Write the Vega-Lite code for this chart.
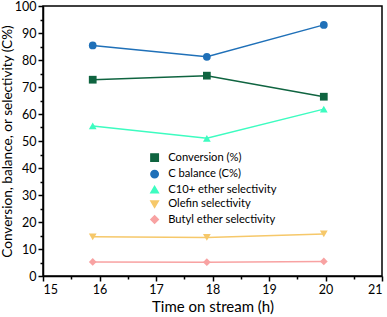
{
  "$schema": "https://vega.github.io/schema/vega-lite/v6.json",
  "autosize": "none",
  "width": 339,
  "height": 270,
  "padding": {"left": 43, "top": 6, "right": 5, "bottom": 41},
  "background": "white",
  "config": {
    "font": "Lato",
    "view": {"stroke": "black", "strokeWidth": 1.5},
    "axis": {"domainColor": "black", "tickColor": "black", "labelColor": "black", "titleColor": "black", "grid": false, "domainWidth": 1.5, "tickWidth": 1.5, "labelFont": "Lato", "titleFont": "Lato", "titleFontWeight": "normal"}
  },
  "data": {
    "values": [
      {"t": 15.88, "v": 72.7, "s": "Conversion (%)"},
      {"t": 17.9, "v": 74.2, "s": "Conversion (%)"},
      {"t": 19.97, "v": 66.4, "s": "Conversion (%)"},
      {"t": 15.88, "v": 85.4, "s": "C balance (C%)"},
      {"t": 17.9, "v": 81.2, "s": "C balance (C%)"},
      {"t": 19.97, "v": 93.0, "s": "C balance (C%)"},
      {"t": 15.88, "v": 55.6, "s": "C10+ ether selectivity"},
      {"t": 17.9, "v": 51.0, "s": "C10+ ether selectivity"},
      {"t": 19.97, "v": 61.8, "s": "C10+ ether selectivity"},
      {"t": 15.88, "v": 14.5, "s": "Olefin selectivity"},
      {"t": 17.9, "v": 14.3, "s": "Olefin selectivity"},
      {"t": 19.97, "v": 15.6, "s": "Olefin selectivity"},
      {"t": 15.88, "v": 5.2, "s": "Butyl ether selectivity"},
      {"t": 17.9, "v": 5.1, "s": "Butyl ether selectivity"},
      {"t": 19.97, "v": 5.4, "s": "Butyl ether selectivity"}
    ]
  },
  "layer": [
    {
      "mark": {"type": "line", "strokeWidth": 1.5},
      "encoding": {
        "x": {"field": "t", "type": "quantitative", "scale": {"domain": [15, 21], "nice": false}, "axis": {"values": [15, 16, 17, 18, 19, 20, 21], "tickSize": 5, "labelFontSize": 12.5, "title": "Time on stream (h)", "titleFontSize": 15, "labelPadding": 2, "titlePadding": 4}},
        "y": {"field": "v", "type": "quantitative", "scale": {"domain": [0, 100], "nice": false}, "axis": {"values": [0, 10, 20, 30, 40, 50, 60, 70, 80, 90, 100], "tickSize": 5, "labelFontSize": 12.5, "title": "Conversion, balance, or selectivity (C%)", "titleFontSize": 13.6, "labelPadding": 2, "titleX": -29, "titleY": 135, "titleAlign": "center"}},
        "color": {"field": "s", "type": "nominal", "sort": null, "scale": {"domain": ["Conversion (%)", "C balance (C%)", "C10+ ether selectivity", "Olefin selectivity", "Butyl ether selectivity"], "range": ["#0f6440", "#1f70b8", "#3dfcc0", "#f6c86a", "#f8a2a2"]}, "legend": {"orient": "none", "legendX": 106, "legendY": 146, "title": null, "labelFontSize": 11.2, "labelFont": "Lato", "labelColor": "black", "symbolSize": 55, "rowPadding": 1.5, "labelOffset": 8, "symbolStrokeWidth": 1.5}}
      }
    },
    {
      "mark": {"type": "point", "filled": true, "size": 60, "opacity": 1},
      "encoding": {
        "x": {"field": "t", "type": "quantitative", "axis": {"values": [15.5, 16.5, 17.5, 18.5, 19.5, 20.5], "tickSize": 3, "labels": false, "domain": false, "title": null, "orient": "bottom"}},
        "y": {"field": "v", "type": "quantitative", "axis": {"values": [5, 15, 25, 35, 45, 55, 65, 75, 85, 95], "tickSize": 3, "labels": false, "domain": false, "title": null, "orient": "left"}},
        "color": {"field": "s", "type": "nominal", "sort": null, "legend": {"orient": "none", "legendX": 106, "legendY": 146, "title": null, "labelFontSize": 11.2, "labelFont": "Lato", "labelColor": "black", "symbolSize": 55, "rowPadding": 1.5, "labelOffset": 8, "symbolStrokeWidth": 1.5}},
        "shape": {"field": "s", "type": "nominal", "sort": null, "scale": {"domain": ["Conversion (%)", "C balance (C%)", "C10+ ether selectivity", "Olefin selectivity", "Butyl ether selectivity"], "range": ["square", "circle", "triangle-up", "triangle-down", "diamond"]}}
      }
    }
  ],
  "resolve": {"axis": {"x": "independent", "y": "independent"}}
}
